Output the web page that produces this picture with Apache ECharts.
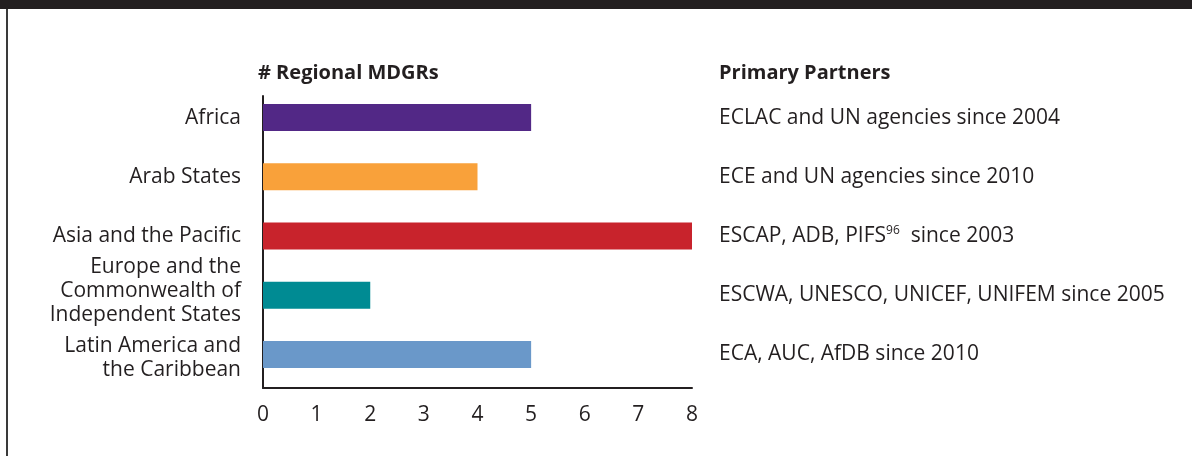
<!DOCTYPE html>
<html>
<head>
<meta charset="utf-8">
<script src="https://cdn.jsdelivr.net/npm/echarts@6/dist/echarts.min.js"></script>
<style>
  html, body { margin: 0; padding: 0; background: #fff; }
  #frame { position: relative; width: 1192px; height: 456px; }
  #topband { position: absolute; left: 0; top: 0; width: 1192px; height: 9px; background: #231f20; }
  #leftline { position: absolute; left: 6px; top: 9px; width: 2px; height: 447px; background: #3a3a3a; }
  #chart { position: absolute; left: 0; top: 0; width: 1192px; height: 456px; }
</style>
</head>
<body>
<div id="frame">
  <div id="chart"></div>
  <div id="topband"></div>
  <div id="leftline"></div>
</div>
<script>
// regions, top to bottom
const regions = [
  'Africa',
  'Arab States',
  'Asia and the Pacific',
  'Europe and the\nCommonwealth of\nIndependent States',
  'Latin America and\nthe Caribbean'
];
// number of regional MDG reports
const mdgrCounts = [5, 4, 8, 2, 5];
const barColors = ['#522886', '#f9a13a', '#c8232c', '#008b93', '#6a98c9'];
// primary partners, same row order as printed
const partners = [
  'ECLAC and UN agencies since 2004',
  'ECE and UN agencies since 2010',
  'ESCAP, ADB, PIFS{sup|96}  since 2003',
  'ESCWA, UNESCO, UNICEF, UNIFEM since 2005',
  'ECA, AUC, AfDB since 2010'
];
const xTicks = [0, 1, 2, 3, 4, 5, 6, 7, 8];

const FONT = '"Open Sans", sans-serif';
const INK = '#231f20';

const chart = echarts.init(document.getElementById('chart'));

// small nudges of the multi-line labels, as printed
const labelShift = ['r0', 'r0', 'r0', 'up', 'down'];

const option = {
  animation: false,
  textStyle: { fontFamily: FONT, color: INK },
  title: [
    {
      text: '# Regional MDGRs',
      left: 258, top: 63, padding: 0,
      textStyle: { fontFamily: FONT, fontWeight: 'bold', fontSize: 20, color: INK }
    },
    {
      text: 'Primary Partners',
      left: 719, top: 63, padding: 0,
      textStyle: { fontFamily: FONT, fontWeight: 'bold', fontSize: 20, color: INK }
    }
  ],
  grid: [
    // bars + labels
    { left: 263, top: 88, width: 429, height: 296 },
    // axis lines and ticks
    { left: 263, top: 96, width: 429, height: 292 }
  ],
  xAxis: [
    { gridIndex: 0, type: 'value', min: 0, max: 8, show: false },
    {
      gridIndex: 1, type: 'value', min: xTicks[0], max: xTicks[xTicks.length - 1], interval: 1,
      axisLine: { show: true, lineStyle: { color: INK, width: 2 } },
      axisTick: { show: false },
      splitLine: { show: false },
      axisLabel: { fontFamily: FONT, fontSize: 21, color: INK, margin: 17 }
    }
  ],
  yAxis: [
    {
      gridIndex: 0, type: 'category', data: regions, inverse: true,
      axisLine: { show: false }, axisTick: { show: false },
      axisLabel: {
        interval: 0,
        fontFamily: FONT, fontSize: 21, color: INK, margin: 22,
        align: 'right', lineHeight: 24,
        formatter: (v, i) => v.split('\n').map(s => '{' + labelShift[i] + '|' + s + '}').join('\n'),
        rich: {
          r0: { fontFamily: FONT, fontSize: 21, color: INK, lineHeight: 24 },
          up: { fontFamily: FONT, fontSize: 21, color: INK, lineHeight: 24, padding: [0, 0, 8, 0] },
          down: { fontFamily: FONT, fontSize: 21, color: INK, lineHeight: 24, padding: [8, 0, 0, 0] }
        }
      }
    },
    {
      gridIndex: 0, type: 'category', data: partners, inverse: true, position: 'right',
      axisLine: { show: false }, axisTick: { show: false },
      axisLabel: {
        interval: 0,
        fontFamily: FONT, fontSize: 21, color: INK, margin: 27, align: 'left',
        rich: {
          sup: { fontFamily: FONT, fontSize: 12, color: INK, verticalAlign: 'top', padding: [0, 0, 10, 0] }
        }
      }
    },
    {
      gridIndex: 1, type: 'category', data: regions,
      axisLine: { show: true, lineStyle: { color: INK, width: 2 } },
      axisTick: { show: false }, axisLabel: { show: false }
    }
  ],
  series: [
    {
      type: 'bar',
      xAxisIndex: 0, yAxisIndex: 0,
      barWidth: 27,
      data: mdgrCounts.map((v, i) => ({ value: v, itemStyle: { color: barColors[i] } }))
    }
  ]
};

chart.setOption(option);
</script>
</body>
</html>
